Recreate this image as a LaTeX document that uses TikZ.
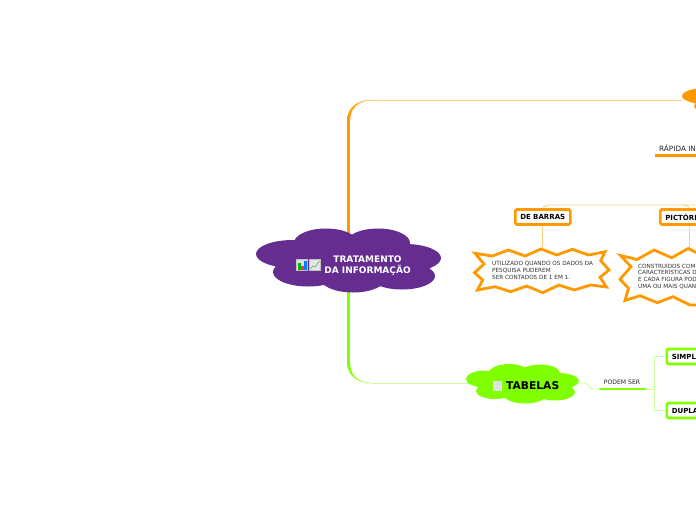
\documentclass[tikz,border=0pt]{standalone}
\usepackage{fontspec}
\setmainfont{DejaVu Sans}
\definecolor{org}{HTML}{FF9900}
\definecolor{orgl}{HTML}{FFCF87}
\definecolor{grn}{HTML}{80FF00}
\definecolor{grnl}{HTML}{CCFF99}
\definecolor{purp}{HTML}{662D91}
\pgfdeclarelayer{bg}
\pgfsetlayers{bg,main}
\tikzset{
  orgbox/.style={draw=org,line width=2.6pt,rounded corners=1.5pt,fill=white,minimum height=15pt,inner sep=0pt,text width=#1,align=left,font=\bfseries\fontsize{7}{8}\selectfont,anchor=west},
  grnbox/.style={orgbox=#1,draw=grn},
  startext/.style={align=left,anchor=west,inner sep=0pt,text=black!80,font=\fontsize{5.7}{6.7}\selectfont},
  linktext/.style={inner sep=0pt,text=black!85,font=\fontsize{#1}{8}\selectfont},
  starshape/.style={draw=org,line width=2.8pt,fill=white,miter limit=10},
  thinorg/.style={draw=orgl,line width=.9pt},
  thingrn/.style={draw=grnl,line width=.9pt},
}
\begin{document}
\begin{tikzpicture}[x=1pt,y=-1pt]
\useasboundingbox (0,0) rectangle (696,520);
\begin{scope}
\clip (0,0) rectangle (696,520);
% clouds
\fill[purp] (293,254) ellipse [x radius=37,y radius=14] (326,243) ellipse [x radius=32,y radius=14.5]
 (378,243) ellipse [x radius=32,y radius=14.5] (405,258) ellipse [x radius=36,y radius=14]
 (308,272) ellipse [x radius=35,y radius=14.5] (353,278) ellipse [x radius=33,y radius=14.5]
 (402,276) ellipse [x radius=33,y radius=13.5] (350,260) ellipse [x radius=55,y radius=20];
\fill[grn] (485,379) ellipse [x radius=19,y radius=8.5] (509,373) ellipse [x radius=20,y radius=9]
 (540,373) ellipse [x radius=20,y radius=8.5] (558,381) ellipse [x radius=21,y radius=8]
 (495,391) ellipse [x radius=19,y radius=8] (525,395) ellipse [x radius=21,y radius=8.5]
 (555,392) ellipse [x radius=20,y radius=8.5] (522,384) ellipse [x radius=35,y radius=12];
\fill[org] (710,96) ellipse [x radius=28,y radius=8.5] (712,106) ellipse [x radius=18,y radius=7];
% stars
\draw[starshape] (475,253.3)--(492.3,256)--(508.3,250)--(525,256)--(541,249)--(556.7,255)--(572.3,249.3)--(588.3,255)--(605,251.8)--(600.7,260.7)--(609,270)--(600,277.3)--(606.5,287)--(590.7,285)--(574.3,290)--(559,285)--(542.7,292.7)--(526.7,286)--(510.7,291.7)--(495,286.7)--(477.5,290)--(482.7,280)--(474.5,272.7)--(484,264)--cycle;
\draw[starshape] (620.5,255.5)--(637,259.5)--(654,250)--(671.7,257.7)--(688.3,248.5)--(705,257)--(720,250)--(720,305)--(690,305)--(673,296.7)--(657.3,302.7)--(640,295.7)--(625,300.5)--(628.5,288.3)--(620,279.3)--(631,266.7)--cycle;
% icons
\fill[black!25] (296,259) rectangle (308,271);
\fill[white!88!black] (297,260) rectangle (307,270);
\fill[green!70!black] (298,263) rectangle (300.5,270);
\fill[red!80] (301,266) rectangle (303.5,270);
\fill[blue!50!cyan] (304,261) rectangle (306.5,270);
\fill[black!25] (309,259) rectangle (321,271);
\fill[white!90!black] (310,260) rectangle (320,270);
\draw[green!50!black!70,line width=.5pt] (310.5,269)--(313,266)--(315,267)--(319.5,261);
\fill[black!12] (493,381) rectangle (502,391);
% nodes
\node[font=\bfseries\fontsize{9}{11}\selectfont,text=white,align=center,inner sep=0pt] (main) at (367.5,266) {TRATAMENTO\\DA INFORMAÇÃO};
\node[font=\bfseries\fontsize{10.7}{12}\selectfont,inner sep=0pt,anchor=west] (tabelas) at (506,386) {TABELAS};
\coordinate (topcloud) at (682,100);
\node[orgbox=55pt] (barras) at (514,217) {\hspace{5pt}DE BARRAS};
\node[orgbox=60pt] (pict) at (659,217) {\hspace{5pt}PICTÓRI};
\node[grnbox=60pt] (simpl) at (665.5,356.5) {\hspace{5pt}SIMPL};
\node[grnbox=60pt] (dupla) at (665.5,410.5) {\hspace{5pt}DUPLA};
\node[startext] (tbarras) at (492,270.5) {UTILIZADO QUANDO OS DADOS DA\\PESQUISA PUDEREM\\SER CONTADOS DE 1 EM 1.};
\node[startext] (tpict) at (638,276) {CONSTRUÍDOS COM\\CARACTERÍSTICAS D\\E CADA FIGURA POD\\UMA OU MAIS QUANT};
\node[linktext=7.3,anchor=west] (rapida) at (659,148) {RÁPIDA IN};
\node[linktext=6.1] (podem) at (622,382) {PODEM SER};
\draw[org,line width=2.6pt] (655,155.5) -- (700,155.5);
\draw[grn,line width=2.6pt,line cap=round] (600,389) -- (645,389);
\end{scope}
\begin{pgfonlayer}{bg}
\fill[white] (0,0) rectangle (696,520);
\clip (0,0) rectangle (696,520);
\coordinate (rootc) at (348.7,260);
\coordinate (podemL) at (598,389);
\coordinate (podemR) at (646,389);
\coordinate (busTop) at (696,205);
% orange trunk
\draw[org,line width=3pt] (rootc) -- (348.7,119);
\shade[left color=org,right color=orgl] (347.2,120) .. controls (347.2,108) and (357,99.6) .. (372,99.6) -- (372,100.4) .. controls (358,100.4) and (350.2,109) .. (350.2,120) -- cycle;
\draw[thinorg] (371,100) -- (topcloud);
% green trunk
\draw[grn,line width=3pt] (rootc) -- (348.7,364);
\shade[left color=grn,right color=grnl] (347.2,363) .. controls (347.2,375) and (357,383.4) .. (372,383.4) -- (372,382.6) .. controls (358,382.6) and (350.2,375) .. (350.2,363) -- cycle;
\draw[thingrn] (371,383) -- (tabelas.west |- 0,383);
% bars
\draw[thinorg,rounded corners=6pt] (barras.north -| 542.5,0) -- (542.5,205) -- (busTop);
\draw[thinorg,rounded corners=4pt] (689,209) -- (689,205) -- (682,205);
\draw[thinorg] (barras.south -| 542.5,0) -- (tbarras.north -| 542.5,0);
\draw[thinorg] (pict.south -| 689,0) -- (689,255);
% tabelas links
\draw[thingrn,rounded corners=3pt] (tabelas.east |- 0,383) -- (587,383) -- (590,389) -- (podemL);
\draw[thingrn] (podemR) -- (654,389);
\draw[thingrn] (simpl.west) -- (654,356.5) -- (654,410.5) -- (dupla.west);
\end{pgfonlayer}
\end{tikzpicture}
\end{document}
